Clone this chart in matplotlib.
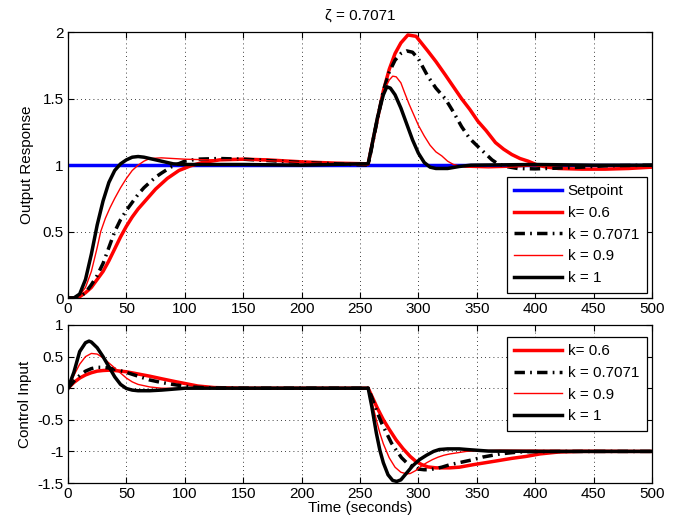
import matplotlib
matplotlib.use("Agg")
import matplotlib.pyplot as plt
from matplotlib.ticker import FormatStrFormatter

plt.rcParams['font.family'] = ['Liberation Sans', 'DejaVu Sans']
plt.rcParams['font.size'] = 11

# ---- output response (top) ----
setpoint_t = [0, 500]
setpoint_y = [1, 1]

y06_t = [0, 5, 10, 15, 20, 25, 30, 35, 40, 45, 50, 55, 60, 65, 70, 75, 85, 95, 105, 115, 130, 150, 170, 200, 230,
         257, 260, 265, 270, 275, 280, 285, 291, 298, 308, 315, 323, 330, 337, 344, 351, 358, 366, 373, 380, 387,
         394, 402, 410, 420, 440, 460, 480, 500]
y06 = [0, 0, 0.01, 0.04, 0.08, 0.14, 0.2, 0.28, 0.37, 0.46, 0.54, 0.61, 0.67, 0.72, 0.77, 0.82, 0.9, 0.96, 0.995,
       1.02, 1.04, 1.045, 1.04, 1.025, 1.015, 1.01,
       1.14, 1.35, 1.56, 1.72, 1.84, 1.92, 1.98, 1.97, 1.86, 1.78, 1.68, 1.59, 1.5, 1.42, 1.33, 1.26, 1.17, 1.12,
       1.08, 1.05, 1.03, 1.0, 0.985, 0.975, 0.97, 0.97, 0.975, 0.985]

y07_t = [0, 5, 10, 15, 20, 25, 30, 35, 40, 45, 50, 55, 60, 65, 70, 75, 80, 89, 100, 110, 130, 150, 180, 200, 230,
         257, 260, 265, 270, 275, 280, 285, 290, 295, 300, 308, 315, 323, 330, 337, 344, 351, 357, 363, 368, 375,
         385, 400, 420, 440, 460, 500]
y07 = [0, 0, 0.01, 0.04, 0.1, 0.17, 0.26, 0.38, 0.5, 0.59, 0.66, 0.72, 0.78, 0.83, 0.87, 0.91, 0.94, 0.99, 1.03,
       1.045, 1.05, 1.045, 1.03, 1.02, 1.01, 1.0,
       1.13, 1.35, 1.56, 1.7, 1.79, 1.84, 1.86, 1.85, 1.8, 1.67, 1.58, 1.5, 1.4, 1.29, 1.2, 1.14, 1.09, 1.04,
       1.01, 0.99, 0.975, 0.972, 0.978, 0.985, 0.995, 1.0]

y09_t = [0, 5, 10, 15, 20, 25, 28, 32, 36, 40, 45, 50, 55, 60, 65, 70, 80, 90, 100, 120, 150, 180, 200, 230, 257,
         260, 265, 270, 275, 278, 281, 285, 288, 292, 296, 300, 305, 310, 315, 320, 325, 330, 340, 360, 380, 400,
         450, 500]
y09 = [0, 0, 0.02, 0.08, 0.2, 0.38, 0.5, 0.6, 0.68, 0.75, 0.83, 0.9, 0.96, 1.0, 1.03, 1.05, 1.055, 1.05, 1.045,
       1.04, 1.04, 1.03, 1.02, 1.01, 1.0,
       1.13, 1.35, 1.55, 1.64, 1.67, 1.665, 1.62, 1.55, 1.46, 1.38, 1.3, 1.22, 1.15, 1.1, 1.07, 1.03, 1.005,
       0.985, 0.98, 0.985, 0.995, 1.0, 1.0]

y1_t = [0, 5, 10, 15, 20, 25, 30, 35, 40, 45, 50, 55, 60, 65, 70, 80, 90, 100, 150, 200, 250, 257,
        260, 265, 270, 273, 276, 280, 285, 290, 295, 300, 305, 310, 315, 325, 335, 345, 400, 450, 500]
y1 = [0, 0, 0.03, 0.14, 0.33, 0.55, 0.73, 0.87, 0.96, 1.01, 1.04, 1.06, 1.065, 1.06, 1.05, 1.03, 1.01, 1.005,
      1.005, 1.0, 1.01, 1.01,
      1.14, 1.36, 1.53, 1.59, 1.58, 1.53, 1.43, 1.31, 1.19, 1.09, 1.02, 0.985, 0.975, 0.975, 0.99, 1.0, 1.005,
      1.0, 1.0]

# ---- control input (bottom) ----
u06_t = [0, 5, 10, 15, 20, 25, 30, 35, 40, 50, 60, 70, 80, 93, 100, 111, 125, 150, 200, 257,
         260, 265, 270, 275, 281, 287, 293, 298, 303, 308, 315, 327, 335, 347, 357, 367, 380, 392, 404, 420, 440,
         500]
u06 = [0, 0.09, 0.16, 0.21, 0.245, 0.27, 0.28, 0.285, 0.28, 0.26, 0.225, 0.19, 0.15, 0.1, 0.075, 0.035, 0.01, 0,
       0, 0,
       -0.12, -0.32, -0.5, -0.65, -0.82, -0.96, -1.08, -1.16, -1.21, -1.245, -1.26, -1.26, -1.25, -1.21, -1.18,
       -1.15, -1.11, -1.08, -1.04, -1.01, -1.0, -1.0]

u07_t = [0, 5, 10, 15, 20, 25, 30, 35, 40, 50, 60, 70, 80, 93, 105, 120, 150, 200, 257,
         260, 264, 268.5, 273, 277, 281, 285.6, 290, 295, 300, 305, 309, 315, 320, 327, 337, 347, 355, 361, 370,
         380, 390, 420, 500]
u07 = [0, 0.11, 0.2, 0.27, 0.31, 0.33, 0.33, 0.32, 0.3, 0.25, 0.19, 0.13, 0.09, 0.05, 0.02, 0.005, 0, 0, 0,
       -0.14, -0.35, -0.55, -0.72, -0.87, -0.98, -1.1, -1.18, -1.24, -1.28, -1.29, -1.29, -1.27, -1.25, -1.21,
       -1.17, -1.13, -1.09, -1.07, -1.04, -1.02, -1.005, -1.0, -1.0]

u09_t = [0, 5, 10, 15, 20, 25, 30, 35, 40, 45, 50, 55, 60, 70, 80, 100, 150, 200, 257,
         260, 264, 267, 270, 275, 280, 285, 290, 293, 298, 302, 307, 312, 317, 322, 327, 334, 341, 350, 370, 400,
         450, 500]
u09 = [0, 0.2, 0.38, 0.5, 0.55, 0.54, 0.48, 0.4, 0.32, 0.24, 0.16, 0.1, 0.06, 0.02, 0.0, -0.005, 0, 0, 0,
       -0.2, -0.5, -0.71, -0.88, -1.1, -1.25, -1.33, -1.355, -1.35, -1.3, -1.24, -1.18, -1.13, -1.09, -1.06,
       -1.04, -1.02, -1.0, -0.99, -0.98, -0.98, -0.985, -0.99]

u1_t = [0, 5, 10, 15, 18, 20, 25, 30, 35, 40, 45, 50, 55, 60, 70, 80, 90, 100, 150, 200, 257,
        260, 264, 267, 270, 274, 278, 281.5, 285, 290, 295, 301, 307, 313, 318, 325, 335, 345, 360, 400, 500]
u1 = [0, 0.25, 0.58, 0.72, 0.745, 0.73, 0.64, 0.5, 0.34, 0.18, 0.06, -0.005, -0.03, -0.04, -0.04, -0.03, -0.015,
      0, 0, 0, 0,
      -0.28, -0.71, -0.98, -1.18, -1.37, -1.46, -1.475, -1.45, -1.34, -1.23, -1.13, -1.06, -1.0, -0.97, -0.96,
      -0.96, -0.975, -0.995, -1.0, -1.0]

labels = ['k= 0.6', 'k = 0.7071', 'k = 0.9', 'k = 1']
dashdot = (0, (3, 1.5, 0.5, 1.5))
styles = [dict(color='r', lw=2.5), dict(color='k', lw=2.5, ls=dashdot),
          dict(color='r', lw=1.0), dict(color='k', lw=2.5)]

fig = plt.figure(figsize=(6.8, 5.22), dpi=100)
ax1 = fig.add_axes([0.1, 0.4291, 0.8588, 0.509])
ax2 = fig.add_axes([0.1, 0.0747, 0.8588, 0.3027])

ax1.plot(setpoint_t, setpoint_y, color='b', lw=2.5, label='Setpoint')
for (tt, yy), lab, st in zip([(y06_t, y06), (y07_t, y07), (y09_t, y09), (y1_t, y1)], labels, styles):
    ax1.plot(tt, yy, label=lab, **st)
for (tt, uu), lab, st in zip([(u06_t, u06), (u07_t, u07), (u09_t, u09), (u1_t, u1)], labels, styles):
    ax2.plot(tt, uu, label=lab, **st)

ax1.set_ylim(0, 2)
ax1.set_yticks([0, 0.5, 1, 1.5, 2])
ax2.set_ylim(-1.5, 1)
ax2.set_yticks([-1.5, -1, -0.5, 0, 0.5, 1])
for ax in (ax1, ax2):
    ax.set_xlim(0, 500)
    ax.set_xticks(range(0, 501, 50))
    ax.yaxis.set_major_formatter(FormatStrFormatter('%g'))
    ax.grid(True, color='k', linestyle=(0, (1, 4)), linewidth=0.6)
    ax.tick_params(direction='in', top=True, right=True, length=4, width=0.8, pad=3, labelsize=11)
    for s in ax.spines.values():
        s.set_linewidth(0.9)

ax1.set_title('ζ = 0.7071', fontsize=11, pad=9)
ax1.set_ylabel('Output Response', labelpad=6)
ax2.set_ylabel('Control Input', labelpad=4)
ax2.set_xlabel('Time (seconds)', labelpad=0)

leg_kw = dict(fancybox=False, framealpha=1, edgecolor='k', handlelength=3.1, handletextpad=0.4,
              labelspacing=0.5, borderpad=0.5, fontsize=11)
l1 = ax1.legend(loc='lower right', borderaxespad=0.35, **leg_kw)
l2 = ax2.legend(loc='upper right', bbox_to_anchor=(1.0, 0.96), borderaxespad=0.35, **leg_kw)
for l in (l1, l2):
    l.get_frame().set_linewidth(0.9)

fig.savefig('out.png', dpi=100)
